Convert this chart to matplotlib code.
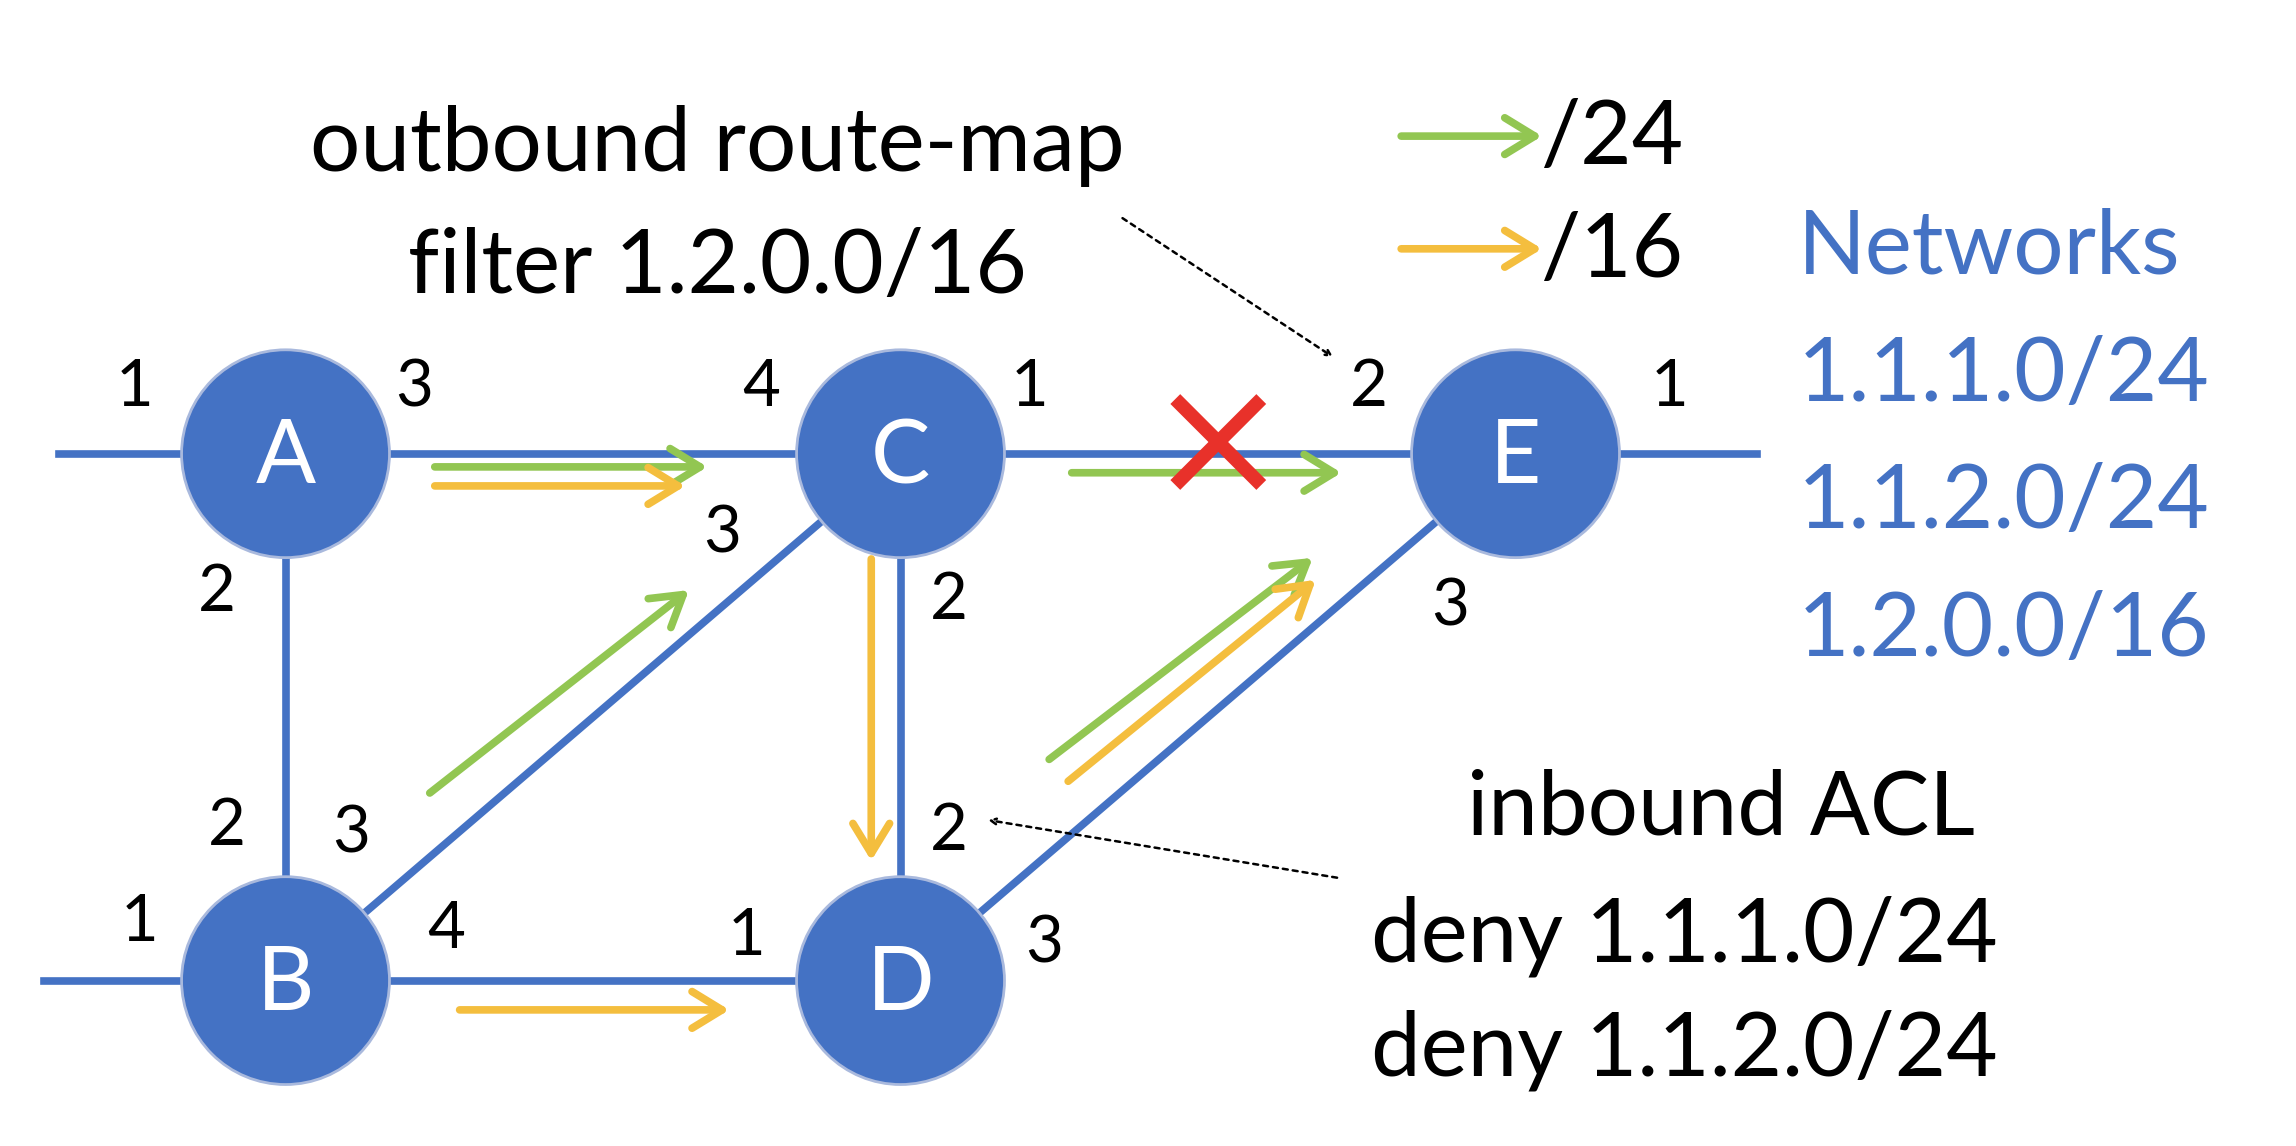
import matplotlib.pyplot as plt
from matplotlib.patches import Circle, FancyArrowPatch

# coordenadas en un lienzo de 1568 x 783 (se escala a 2296 x 1146)
nodos = ["A", "B", "C", "D", "E"]
pos_x = [195, 195, 615, 615, 1035]
pos_y = [310, 670, 310, 670, 310]

enlaces = [("A", "C"), ("C", "E"), ("A", "B"), ("B", "D"), ("B", "C"), ("C", "D"), ("D", "E")]
stubs = [("A", 40), ("B", 30), ("E", 1200)]

puertos = ["1", "3", "2", "4", "1", "3", "2", "2", "1", "3", "2", "3", "1", "4", "2", "1", "3"]
puertos_x = [92, 283, 148, 520, 703, 493, 648, 935, 1140, 990, 155, 240, 95, 305, 648, 510, 713]
puertos_y = [265, 265, 405, 265, 265, 365, 410, 265, 265, 415, 565, 570, 630, 635, 568, 640, 645]

verde = "#92C652"
naranja = "#F4BE3E"
azul = "#4472C4"

flechas = [
    ((295, 319), (485, 319), verde),
    ((295, 332), (470, 332), naranja),
    ((292, 543), (472, 402), verde),
    ((595, 380), (595, 590), naranja),
    ((730, 323), (918, 323), verde),
    ((715, 520), (898, 380), verde),
    ((728, 535), (900, 395), naranja),
    ((312, 690), (500, 690), naranja),
]

redes = ["Networks", "1.1.1.0/24", "1.1.2.0/24", "1.2.0.0/16"]

fig = plt.figure(figsize=(22.96, 11.46), dpi=100)
ax = fig.add_axes([0, 0, 1, 1])
ax.set_xlim(0, 1568)
ax.set_ylim(783, 0)
ax.axis("off")

FUENTE = "Lato"
lw = 5.5
GRANDE = 64

def p(n):
    i = nodos.index(n)
    return pos_x[i], pos_y[i]

for a, b in enlaces:
    (x1, y1), (x2, y2) = p(a), p(b)
    ax.plot([x1, x2], [y1, y2], color=azul, lw=lw, zorder=1, solid_capstyle="butt")
for n, x in stubs:
    x1, y1 = p(n)
    ax.plot([x1, x], [y1, y1], color=azul, lw=lw, zorder=1)

for n, x, y in zip(nodos, pos_x, pos_y):
    ax.add_patch(Circle((x, y), 71, facecolor=azul, edgecolor="#A9B9DD", lw=2, zorder=2))
    ax.text(x, y + 3, n, color="white", fontsize=GRANDE, family=FUENTE, ha="center", va="center", zorder=3)

for t, x, y in zip(puertos, puertos_x, puertos_y):
    ax.text(x, y, t, fontsize=47, family=FUENTE, ha="center", va="center")

estilo = "->,head_length=1.8,head_width=1.1"
for (x1, y1), (x2, y2), c in flechas:
    ax.add_patch(FancyArrowPatch((x1, y1), (x2, y2), arrowstyle=estilo,
                                 color=c, lw=lw, mutation_scale=12, zorder=4))

# cruz roja
ax.plot([806, 858], [276, 328], color="#E8312A", lw=10, zorder=5)
ax.plot([806, 858], [328, 276], color="#E8312A", lw=10, zorder=5)

# flechas punteadas
ax.annotate("", xy=(912, 245), xytext=(765, 148),
            arrowprops=dict(arrowstyle="->", linestyle=(0, (2, 2)), lw=1.8, color="black"))
ax.annotate("", xy=(673, 560), xytext=(915, 600),
            arrowprops=dict(arrowstyle="->", linestyle=(0, (2, 2)), lw=1.8, color="black"))

# leyenda
for y, c, t in [(93, verde, "/24"), (170, naranja, "/16")]:
    ax.add_patch(FancyArrowPatch((955, y), (1055, y), arrowstyle=estilo,
                                 color=c, lw=lw, mutation_scale=12))
    ax.text(1052, y + 2, t, fontsize=GRANDE, family=FUENTE, va="center")

ax.text(490, 100, "outbound route-map", fontsize=GRANDE, family=FUENTE, ha="center", va="center")
ax.text(490, 183, "filter 1.2.0.0/16", fontsize=GRANDE, family=FUENTE, ha="center", va="center")

ax.text(1175, 553, "inbound ACL", fontsize=GRANDE, family=FUENTE, ha="center", va="center")
ax.text(936, 640, "deny 1.1.1.0/24", fontsize=GRANDE, family=FUENTE, va="center")
ax.text(936, 718, "deny 1.1.2.0/24", fontsize=GRANDE, family=FUENTE, va="center")

for i, t in enumerate(redes):
    ax.text(1228, 170 + 87 * i, t, fontsize=GRANDE, family=FUENTE, color=azul, va="center")

fig.savefig("out.png", dpi=100)
